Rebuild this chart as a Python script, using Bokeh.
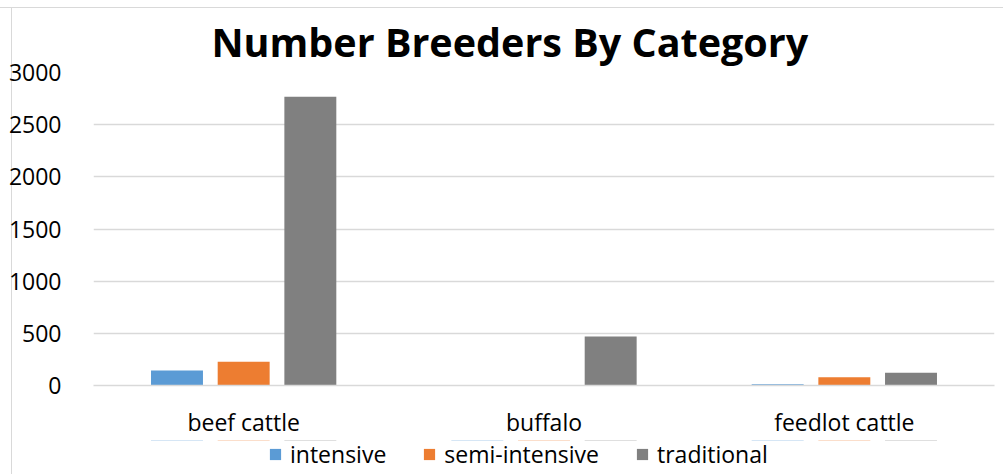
from bokeh.plotting import figure
from bokeh.layouts import column
from bokeh.models import ColumnDataSource, FactorRange, Range1d, Legend, LegendItem, SingleIntervalTicker
from bokeh.transform import dodge
from bokeh.embed import file_html
from bokeh.resources import INLINE

categories = ["beef cattle", "buffalo", "feedlot cattle"]
series = ["intensive", "semi-intensive", "traditional"]
intensive = [143, 0, 12]
semi_intensive = [228, 0, 79]
traditional = [2768, 470, 123]
colors = ["#5B9BD5", "#ED7D31", "#808080"]
title_text = "Number Breeders By Category"

src = ColumnDataSource(dict(cat=categories, intensive=intensive,
                            semi=semi_intensive, traditional=traditional))

FONT = "Open Sans"
FS = "23px"
LINE = "#d9d9d9"

p = figure(width=1003, height=440, x_range=FactorRange(*categories),
           y_range=Range1d(0, 3000), output_backend="svg", toolbar_location=None,
           min_border_left=93, min_border_right=9, min_border_top=72, min_border_bottom=52,
           title=title_text)
p.outline_line_color = None
p.background_fill_color = "white"
p.border_fill_alpha = 0
p.styles = {"background": f"linear-gradient({LINE},{LINE}) 0px 7px / 100% 1px no-repeat, "
                          f"linear-gradient({LINE},{LINE}) 11px 7px / 1px 100% no-repeat, white"}

p.title.align = "left"
p.title.offset = 118
p.title.standoff = 7
p.title.text_font = FONT
p.title.text_font_size = "39.5px"
p.title.text_font_style = "bold"
p.title.text_color = "black"

offsets = [-0.222, 0.0, 0.222]
cols = ["intensive", "semi", "traditional"]
for col, off, c in zip(cols, offsets, colors):
    p.vbar(x=dodge("cat", off, range=p.x_range), top=col, width=0.173,
           source=src, fill_color=c, line_color=None)

p.xgrid.grid_line_color = None
p.ygrid.grid_line_color = "#D9D9D9"
p.ygrid.grid_line_width = 1.3
p.yaxis.ticker = SingleIntervalTicker(interval=500)
p.yaxis.axis_line_color = None
p.yaxis.major_tick_line_color = None
p.yaxis.minor_tick_line_color = None
p.yaxis.major_label_standoff = 26
p.yaxis.major_label_text_font = FONT
p.yaxis.major_label_text_font_size = FS
p.yaxis.major_label_text_color = "black"

p.xaxis.axis_line_color = "#D9D9D9"
p.xaxis.axis_line_width = 1.3
p.xaxis.major_tick_line_color = None
p.xaxis.minor_tick_line_color = None
p.xaxis.major_label_standoff = 14
p.xaxis.major_label_text_font = FONT
p.xaxis.major_label_text_font_size = FS
p.xaxis.major_label_text_color = "black"

# legend strip (its bars lie outside the strip's visible y range; only the legend shows)
p2 = figure(width=1003, height=34, x_range=FactorRange(*categories), y_range=Range1d(-40, -10),
            x_axis_type=None, y_axis_type=None, output_backend="svg", toolbar_location=None,
            min_border_left=0, min_border_right=0, min_border_top=0, min_border_bottom=0)
p2.outline_line_color = None
p2.xgrid.grid_line_color = None
p2.ygrid.grid_line_color = None
p2.background_fill_alpha = 0
p2.border_fill_alpha = 0
p2.styles = {"background": f"linear-gradient({LINE},{LINE}) 11px 0px / 1px 100% no-repeat, white"}

proxies = [p2.vbar(x=dodge("cat", off, range=p2.x_range), top=col, width=0.173,
                   source=src, fill_color=c, line_color=None)
           for col, off, c in zip(cols, offsets, colors)]

legend = Legend(items=[LegendItem(label=s, renderers=[r]) for s, r in zip(series, proxies)],
                orientation="horizontal", location=(175, 4))
legend.border_line_color = None
legend.background_fill_alpha = 0
legend.padding = 0
legend.margin = 0
legend.spacing = 36
legend.glyph_width = 14
legend.glyph_height = 14
legend.label_height = 30
legend.label_standoff = 8
legend.label_text_font = FONT
legend.label_text_font_size = FS
legend.label_text_color = "black"
p2.add_layout(legend, "center")

layout = column(p, p2, spacing=0)
open("out.html", "w").write(file_html(layout, INLINE))
